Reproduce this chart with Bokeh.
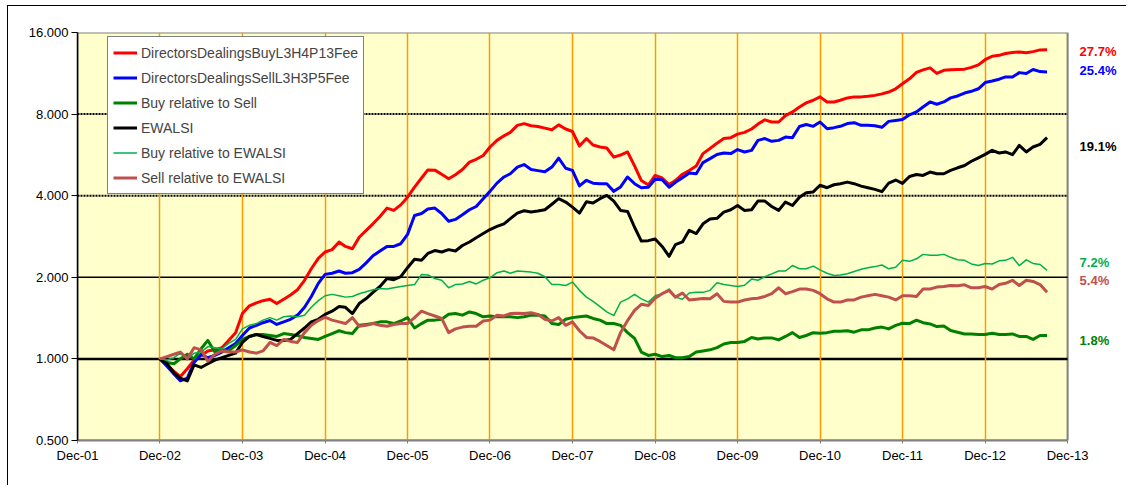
import pandas as pd
from bokeh.plotting import figure
from bokeh.models import Range1d, FixedTicker, NumeralTickFormatter, Legend, LegendItem
from bokeh.core.properties import value
from bokeh.embed import file_html
from bokeh.resources import INLINE

# ---------------- data (monthly, Dec-02 .. Sep-13) ----------------
buy = [1.00, 0.95, 0.90, 0.86, 0.92, 0.99, 1.03, 1.07, 1.08, 1.10,
       1.17, 1.25, 1.47, 1.57, 1.61, 1.64, 1.66, 1.60, 1.66, 1.72,
       1.80, 1.95, 2.15, 2.35, 2.48, 2.53, 2.70, 2.60, 2.55, 2.81,
       2.98, 3.15, 3.35, 3.60, 3.53, 3.70, 3.95, 4.30, 4.65, 4.98,
       4.97, 4.80, 4.62, 4.78, 5.00, 5.32, 5.45, 5.63, 6.05, 6.40,
       6.65, 6.85, 7.27, 7.38, 7.25, 7.20, 7.10, 7.00, 7.30, 7.05,
       6.90, 6.10, 6.50, 6.15, 6.05, 6.00, 5.55, 5.65, 5.80, 5.15,
       4.55, 4.38, 4.75, 4.65, 4.40, 4.55, 4.80, 4.95, 5.15, 5.72,
       5.97, 6.25, 6.50, 6.55, 6.75, 6.85, 7.05, 7.35, 7.62, 7.48,
       7.48, 7.90, 8.15, 8.50, 8.80, 9.00, 9.26, 8.87, 8.87, 9.00,
       9.18, 9.26, 9.26, 9.31, 9.38, 9.50, 9.65, 9.92, 10.35, 10.80,
       11.40, 11.65, 11.85, 11.30, 11.60, 11.65, 11.68, 11.72, 11.90, 12.15,
       12.70, 13.08, 13.18, 13.38, 13.50, 13.57, 13.46, 13.60, 13.80, 13.83]

sell = [1.00, 0.94, 0.88, 0.83, 0.85, 0.97, 1.04, 1.01, 1.03, 1.06,
        1.10, 1.14, 1.22, 1.30, 1.33, 1.36, 1.385, 1.34, 1.37, 1.40,
        1.45, 1.55, 1.70, 1.90, 2.05, 2.07, 2.11, 2.07, 2.08, 2.14,
        2.26, 2.40, 2.50, 2.60, 2.60, 2.66, 2.88, 3.38, 3.44, 3.57,
        3.60, 3.44, 3.22, 3.27, 3.40, 3.55, 3.65, 3.90, 4.15, 4.45,
        4.69, 4.82, 5.10, 5.21, 5.00, 4.95, 4.90, 5.10, 5.50, 5.05,
        4.96, 4.35, 4.56, 4.45, 4.43, 4.43, 4.15, 4.31, 4.69, 4.43,
        4.28, 4.30, 4.60, 4.58, 4.30, 4.48, 4.66, 4.85, 4.82, 5.30,
        5.48, 5.68, 5.75, 5.72, 5.92, 5.80, 5.88, 6.40, 6.50, 6.35,
        6.40, 6.58, 6.55, 7.20, 7.32, 7.21, 7.48, 7.07, 7.13, 7.21,
        7.38, 7.44, 7.27, 7.27, 7.25, 7.15, 7.52, 7.58, 7.64, 7.95,
        8.15, 8.50, 8.87, 8.70, 8.87, 9.18, 9.33, 9.57, 9.71, 9.92,
        10.46, 10.60, 10.76, 10.97, 10.97, 11.38, 11.29, 11.68, 11.48, 11.45]

buy_rel_sell = [1.00, 0.97, 0.96, 1.00, 1.04, 1.00, 1.09, 1.17, 1.06, 1.08,
                1.07, 1.12, 1.18, 1.21, 1.23, 1.23, 1.22, 1.21, 1.24, 1.23,
                1.22, 1.20, 1.19, 1.18, 1.21, 1.24, 1.27, 1.25, 1.24, 1.33,
                1.34, 1.35, 1.37, 1.37, 1.35, 1.38, 1.42, 1.30, 1.35, 1.39,
                1.39, 1.40, 1.46, 1.47, 1.45, 1.49, 1.47, 1.43, 1.44, 1.43,
                1.43, 1.43, 1.42, 1.43, 1.45, 1.45, 1.44, 1.35, 1.34, 1.40,
                1.42, 1.43, 1.44, 1.41, 1.39, 1.35, 1.35, 1.33, 1.25, 1.19,
                1.06, 1.03, 1.04, 1.02, 1.03, 1.01, 1.01, 1.02, 1.06, 1.07,
                1.08, 1.10, 1.135, 1.15, 1.15, 1.16, 1.20, 1.185, 1.195, 1.195,
                1.175, 1.21, 1.25, 1.20, 1.22, 1.25, 1.244, 1.25, 1.265, 1.265,
                1.27, 1.255, 1.28, 1.28, 1.30, 1.31, 1.29, 1.33, 1.354, 1.35,
                1.39, 1.36, 1.346, 1.316, 1.323, 1.272, 1.254, 1.236, 1.236, 1.23,
                1.23, 1.244, 1.23, 1.23, 1.236, 1.21, 1.21, 1.18, 1.22, 1.22]

ewalsi = [1.00, 0.96, 0.89, 0.85, 0.83, 0.95, 0.93, 0.96, 0.99, 1.01,
          1.03, 1.05, 1.15, 1.21, 1.23, 1.21, 1.19, 1.17, 1.17, 1.18,
          1.24, 1.30, 1.37, 1.40, 1.46, 1.50, 1.56, 1.55, 1.47, 1.60,
          1.67, 1.76, 1.85, 1.98, 1.96, 2.01, 2.17, 2.33, 2.31, 2.45,
          2.51, 2.48, 2.53, 2.50, 2.62, 2.70, 2.80, 2.90, 3.00, 3.08,
          3.15, 3.29, 3.45, 3.52, 3.48, 3.51, 3.55, 3.72, 3.90, 3.79,
          3.63, 3.45, 3.80, 3.76, 3.90, 4.01, 3.82, 3.53, 3.50, 3.06,
          2.72, 2.73, 2.77, 2.60, 2.39, 2.64, 2.70, 2.98, 2.90, 3.15,
          3.28, 3.30, 3.48, 3.55, 3.68, 3.53, 3.55, 3.82, 3.82, 3.65,
          3.53, 3.79, 3.68, 3.95, 4.10, 4.13, 4.37, 4.28, 4.39, 4.43,
          4.49, 4.43, 4.34, 4.28, 4.22, 4.14, 4.45, 4.57, 4.44, 4.71,
          4.79, 4.75, 4.89, 4.82, 4.82, 4.96, 5.07, 5.17, 5.36, 5.52,
          5.68, 5.88, 5.75, 5.80, 5.67, 6.13, 5.80, 6.05, 6.19, 6.55]

buy_rel_ewalsi = [1.00, 0.99, 1.01, 1.05, 1.00, 1.05, 1.06, 1.11, 1.10, 1.09,
                  1.14, 1.18, 1.29, 1.33, 1.35, 1.39, 1.42, 1.39, 1.43, 1.44,
                  1.43, 1.45, 1.55, 1.64, 1.71, 1.73, 1.71, 1.69, 1.70, 1.74,
                  1.77, 1.80, 1.82, 1.81, 1.83, 1.85, 1.865, 1.88, 2.05, 2.04,
                  1.98, 1.95, 1.83, 1.88, 1.89, 1.93, 1.89, 1.95, 1.99, 2.08,
                  2.11, 2.07, 2.11, 2.10, 2.09, 2.07, 2.01, 1.88, 1.88, 1.865,
                  1.92, 1.79, 1.69, 1.63, 1.56, 1.49, 1.445, 1.62, 1.666, 1.73,
                  1.666, 1.62, 1.71, 1.74, 1.81, 1.69, 1.66, 1.75, 1.76, 1.76,
                  1.79, 1.91, 1.88, 1.865, 1.85, 1.87, 1.97, 1.95, 2.01, 2.06,
                  2.11, 2.11, 2.21, 2.15, 2.15, 2.20, 2.13, 2.07, 2.03, 2.04,
                  2.06, 2.10, 2.14, 2.17, 2.19, 2.22, 2.15, 2.18, 2.31, 2.29,
                  2.34, 2.43, 2.41, 2.41, 2.43, 2.37, 2.32, 2.31, 2.24, 2.21,
                  2.25, 2.24, 2.30, 2.31, 2.37, 2.21, 2.32, 2.25, 2.23, 2.12]

sell_rel_ewalsi = [1.00, 1.02, 1.04, 1.06, 1.00, 1.10, 1.08, 0.98, 1.04, 1.07,
                   1.06, 1.06, 1.08, 1.06, 1.05, 1.07, 1.15, 1.12, 1.18, 1.16,
                   1.15, 1.25, 1.33, 1.385, 1.425, 1.39, 1.37, 1.35, 1.42, 1.32,
                   1.33, 1.35, 1.33, 1.32, 1.34, 1.35, 1.35, 1.42, 1.50, 1.47,
                   1.44, 1.41, 1.25, 1.29, 1.31, 1.32, 1.32, 1.38, 1.39, 1.45,
                   1.44, 1.47, 1.475, 1.47, 1.48, 1.46, 1.40, 1.38, 1.42, 1.33,
                   1.37, 1.27, 1.20, 1.195, 1.16, 1.12, 1.08, 1.25, 1.385, 1.51,
                   1.59, 1.574, 1.675, 1.74, 1.79, 1.69, 1.75, 1.65, 1.66, 1.67,
                   1.666, 1.74, 1.63, 1.62, 1.62, 1.65, 1.666, 1.675, 1.70, 1.74,
                   1.83, 1.74, 1.77, 1.81, 1.81, 1.79, 1.74, 1.666, 1.62, 1.62,
                   1.65, 1.65, 1.69, 1.71, 1.73, 1.71, 1.69, 1.65, 1.71, 1.71,
                   1.70, 1.81, 1.81, 1.84, 1.85, 1.865, 1.86, 1.876, 1.83, 1.83,
                   1.85, 1.81, 1.88, 1.90, 1.95, 1.865, 1.95, 1.93, 1.88, 1.76]

series_names = ["DirectorsDealingsBuyL3H4P13Fee", "DirectorsDealingsSellL3H3P5Fee",
                "Buy relative to Sell", "EWALSI", "Buy relative to EWALSI",
                "Sell relative to EWALSI"]
series_values = [buy, sell, buy_rel_sell, ewalsi, buy_rel_ewalsi, sell_rel_ewalsi]
series_colors = ["#FF0000", "#0000FF", "#008000", "#000000", "#00B050", "#C0504D"]
series_widths = [3, 3, 3, 3, 1.5, 3]

x_tick_labels = ["Dec-01", "Dec-02", "Dec-03", "Dec-04", "Dec-05", "Dec-06", "Dec-07",
                 "Dec-08", "Dec-09", "Dec-10", "Dec-11", "Dec-12", "Dec-13"]
y_ticks = [0.5, 1, 2, 4, 8, 16]

# annualised returns shown at the right, with their vertical anchor values
pct_labels = ["27.7%", "25.4%", "19.1%", "7.2%", "5.4%", "1.8%"]
pct_colors = ["#FF0000", "#0000FF", "#000000", "#00B050", "#C0504D", "#008000"]
pct_anchor = [13.6, 11.6, 6.05, 2.27, 1.94, 1.168]

# ---------------- figure ----------------
dates = pd.date_range("2002-12-01", periods=len(buy), freq="MS")
dec_ticks = [pd.Timestamp(f"{2001 + i}-12-01").timestamp() * 1000 for i in range(len(x_tick_labels))]
x_start, x_plot_end = dec_ticks[0], dec_ticks[-1]
x_frame_end = pd.Timestamp("2014-08-01").timestamp() * 1000   # room for the % labels
plot_px = 990
frame_w = int(round(plot_px * (x_frame_end - x_start) / (x_plot_end - x_start)))

p = figure(frame_width=frame_w, frame_height=408,
           x_axis_type="datetime", y_axis_type="log",
           x_range=Range1d(x_start, x_frame_end),
           y_range=Range1d(y_ticks[0], y_ticks[-1]),
           output_backend="svg", toolbar_location=None,
           min_border_left=69, min_border_top=26, min_border_right=4, min_border_bottom=45)

p.background_fill_color = "white"
p.border_fill_color = "white"
p.outline_line_color = None
p.styles = {"margin-left": "7px", "margin-top": "5px",
            "border-left": "1px solid #000000", "border-top": "1px solid #000000"}

# yellow plot area with grey border
p.quad(left=[x_start], right=[x_plot_end], bottom=[y_ticks[0]], top=[y_ticks[-1]],
       fill_color="#FFFFCC", line_color="#808080", line_width=2, level="image")

# axes
p.xaxis.ticker = FixedTicker(ticks=dec_ticks)
p.xaxis.major_label_overrides = {t: lab for t, lab in zip(dec_ticks, x_tick_labels)}
p.xaxis.bounds = (x_start, x_plot_end)
p.xaxis.axis_line_color = "#808080"
p.xaxis.axis_line_width = 2
p.xaxis.major_tick_out = 3
p.xaxis.major_tick_in = 0
p.xaxis.major_tick_line_color = "#808080"
p.xaxis.minor_tick_line_color = None
p.xaxis.major_label_standoff = 4

p.yaxis.ticker = FixedTicker(ticks=y_ticks)
p.yaxis.formatter = NumeralTickFormatter(format="0.000")
p.yaxis.axis_line_color = "#000000"
p.yaxis.axis_line_width = 1.5
p.yaxis.major_tick_out = 6
p.yaxis.major_tick_in = 0
p.yaxis.minor_tick_line_color = None
p.yaxis.major_label_standoff = 3

for ax in (p.xaxis, p.yaxis):
    ax.major_label_text_font = "Liberation Sans"
    ax.major_label_text_font_size = "13px"
    ax.major_label_text_color = "#000000"

# grids
p.xgrid.ticker = FixedTicker(ticks=dec_ticks[1:-1])
p.xgrid.grid_line_color = "#FF9900"
p.xgrid.grid_line_width = 1.5
p.ygrid.grid_line_color = None

n_dot = [4, 8]
n_solid = [1, 2]
p.segment(x0=[x_start] * 2, x1=[x_plot_end] * 2, y0=n_dot, y1=n_dot,
          line_color="#000000", line_width=2, line_dash="2 1", level="underlay")
p.segment(x0=[x_start] * 2, x1=[x_plot_end] * 2, y0=n_solid, y1=n_solid,
          line_color="#000000", line_width=[2.5, 1.5], level="underlay")

# lines
items = []
for name, vals, col, w in zip(series_names, series_values, series_colors, series_widths):
    r = p.line(dates, vals, line_color=col, line_width=w, line_join="round")
    items.append(LegendItem(label=name, renderers=[r]))

legend = Legend(items=items, location=(30, 246))
legend.background_fill_color = "white"
legend.background_fill_alpha = 1
legend.border_line_color = "#000000"
legend.border_line_width = 1.5
legend.label_text_font = "Liberation Sans"
legend.label_text_font_size = "14px"
legend.glyph_width = 24
legend.glyph_height = 21
legend.label_height = 21
legend.label_width = 217
legend.spacing = 4
legend.padding = 5
legend.margin = 0
legend.label_standoff = 4
p.add_layout(legend, "center")

# right-hand annotations (annualised returns)
p.text(x=[x_plot_end] * len(pct_labels), y=pct_anchor, text=pct_labels,
       text_color=pct_colors, x_offset=12, text_font=value("Liberation Sans"),
       text_font_style="bold", text_font_size="13px", text_baseline="middle")

open("out.html", "w").write(file_html(p, INLINE))
